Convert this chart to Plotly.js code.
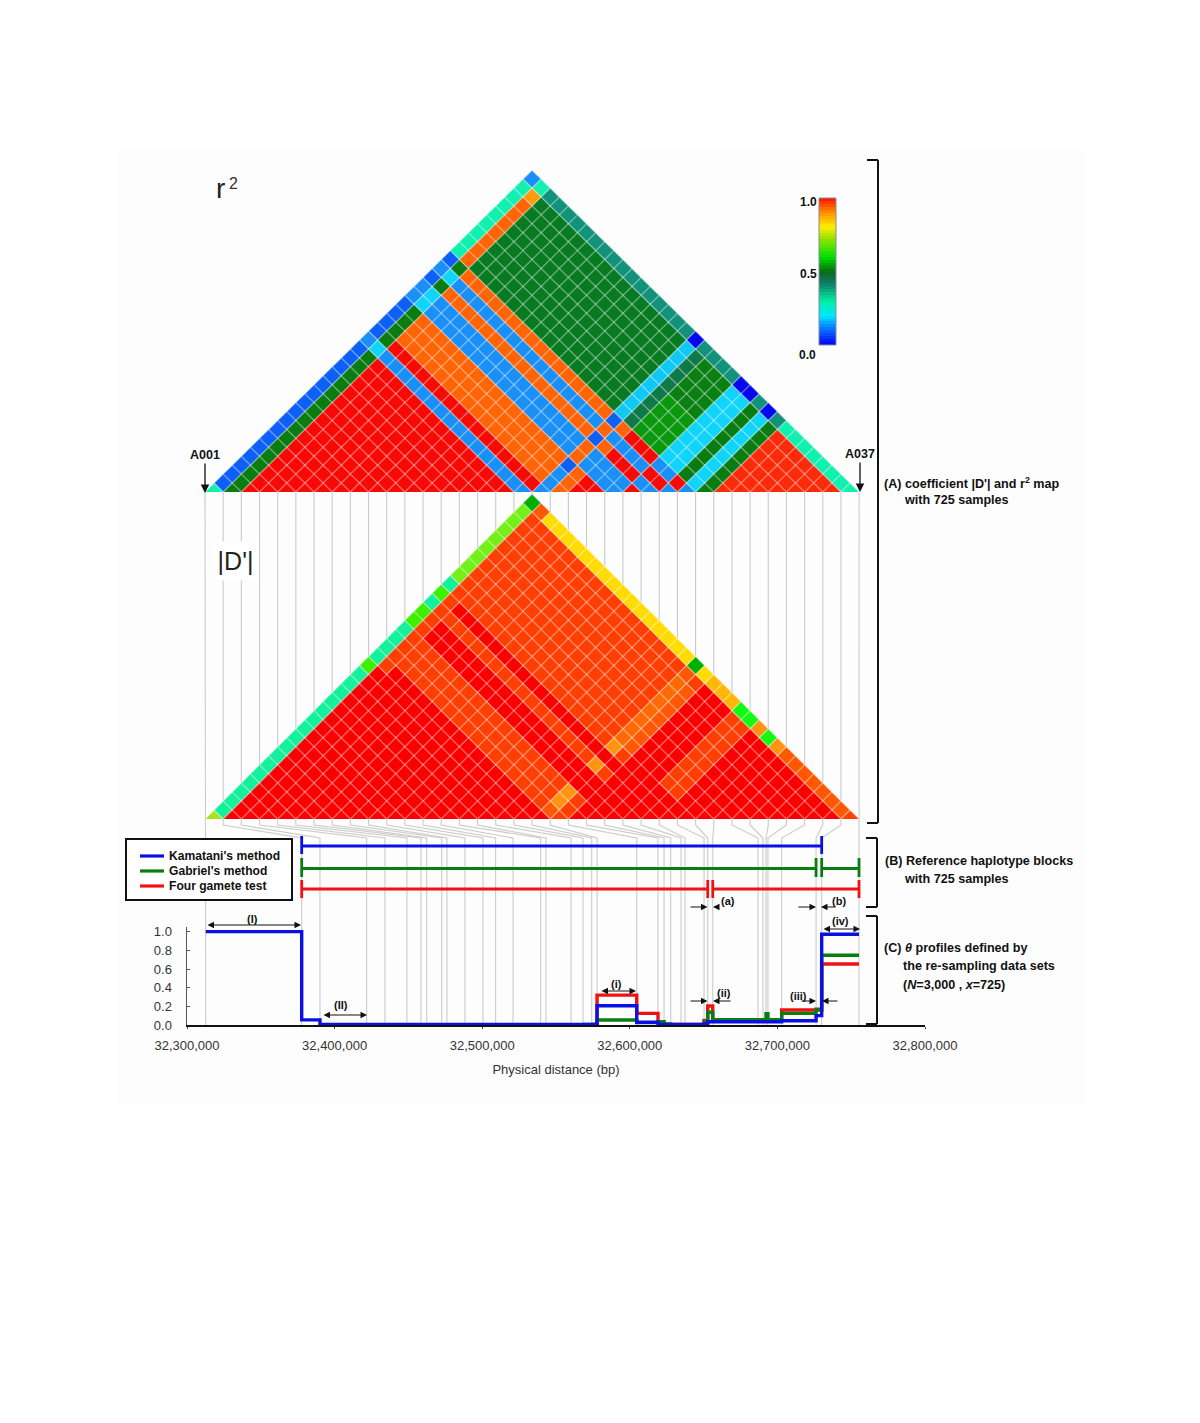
<!DOCTYPE html>
<html><head><meta charset="utf-8">
<script src="https://cdn.plot.ly/plotly-3.0.1.min.js"></script>
<style>html,body{margin:0;padding:0;background:#fff}#chart{width:1200px;height:1423px}</style>
</head><body><div id="chart"></div>
<script>
// ---------- DATA ----------
// Physical position (bp) of the 37 markers A001..A037
const markerBp = [32312700,32377700,32390100,32421700,32434100,32449000,32458500,32462400,32472600,32476100,32488300,32500500,32509100,32520900,32539600,32543200,32560200,32568300,32574200,32577800,32604700,32619100,32623200,32627700,32634700,32637400,32650300,32652800,32656200,32686900,32690200,32692300,32693600,32702900,32726200,32730000,32755300];

// r2 map: row n lists the pairs (n, n+1) .. (n, 37); each letter is a colour class
const r2Rows = [
"MBBBBBBBBBBBBBBBBLBBBBLLBLBMMMMMMMML",
"GGGGGGGGGGGGGGGGCGGGGCCGCGOOOOOOOAM",
"RRRRRRRRRRRRRRRLROOOLLOLOHHHHHHHHT",
"RRRRRRRRRRRRRRLROOOLLOLOHHHHHHHHT",
"RRRRRRRRRRRRRLROOOLLOLOHHHHHHHHT",
"RRRRRRRRRRRRLROOOLLOLOHHHHHHHHT",
"RRRRRRRRRRRLROOOLLOLOHHHHHHHHT",
"RRRRRRRRRRLROOOLLOLOHHHHHHHHT",
"RRRRRRRRRLROOOLLOLOHHHHHHHHT",
"RRRRRRRRLROOOLLOLOHHHHHHHHT",
"RRRRRRRLROOOLLOLOHHHHHHHHT",
"RRRRRRLROOOLLOLOHHHHHHHHT",
"RRRRRLROOOLLOLOHHHHHHHHT",
"RRRRLROOOLLOLOHHHHHHHHT",
"RRRLROOOLLOLOHHHHHHHHT",
"RRLROOOLLOLOHHHHHHHHT",
"RLROOOLLOLOHHHHHHHHT",
"LROOOLLOLOHHHHHHHHT",
"LLLBOOBOBccccccccD",
"OOOLLOLOttttttttT",
"RRLLRLREEEEFFFFT",
"RLLRLREEEEFFFFT",
"LLRLREEEEFFFFT",
"RLRLCCCCCCCCD",
"LRLCCCCCCCCD",
"LRGGGGGGGGT",
"LCCCCCCCCD",
"GGGGGGGGT",
"QQQQQQQM",
"QQQQQQM",
"QQQQQM",
"QQQQM",
"QQQM",
"QQM",
"QM",
"M"
];
const r2Palette = {R:"#f70a05",Q:"#fb2a08",O:"#ff6406",A:"#ff9a0c",M:"#12f0b0",B:"#0c60f6",L:"#1a90f6",C:"#10d4fa",c:"#10c8f6",D:"#0408ee",G:"#0a7c12",H:"#087a22",E:"#0a980f",F:"#0a8012",t:"#0f7a48",T:"#12927a"};

// |D'| map: same layout as r2Rows
const dRows = [
"kmmmmmmmmmmmmmmmmnmmmmnnmnmlllllllld",
"rrrrrrrrrrrrrrrrrqqqqqqqqqqqqqqqqqo",
"rrrrrrrrrrrrrrrrrqqqrrqrqqqqqqqqqy",
"rrrrrrrrrrrrrrrrqqqrrqrqqqqqqqqqy",
"rrrrrrrrrrrrrrrqqqrrqrqqqqqqqqqy",
"rrrrrrrrrrrrrrqqqrrqrqqqqqqqqqy",
"rrrrrrrrrrrrrqqqrrqrqqqqqqqqqy",
"rrrrrrrrrrrrqqqrrqrqqqqqqqqqy",
"rrrrrrrrrrrqqqrrqrqqqqqqqqqy",
"rrrrrrrrrrqqqrrqrqqqqqqqqqy",
"rrrrrrrrrqqqrrqrqqqqqqqqqy",
"rrrrrrrrqqqrrqrqqqqqqqqqy",
"rrrrrrrqqqrrqrqqqqqqqqqy",
"rrrrrrqqqrrqrqqqqqqqqqy",
"rrrrrqqqrrqrqqqqqqqqqy",
"rrrrqqqrrqrqqqqqqqqqy",
"rrrqqqrrqrqqqqqqqqqy",
"rrqqqrrqrqqqqqqqqqy",
"roaarrarapppppppod",
"qqqrrqrqoooooooqy",
"rrrrrrrrrrrrrrrw",
"rrrrrrrrrrrrrrw",
"rrrrrrrrrrrrrw",
"rrrrqqqqqqqqe",
"rrrqqqqqqqqe",
"rrrrrrrrrra",
"rrrrrrrrre",
"rrrrrrrra",
"rrrrrrro",
"rrrrrro",
"rrrrro",
"rrrro",
"rrro",
"rro",
"ro",
"q"
];
const dPalette = {r:"#fb0000",q:"#ff3e02",o:"#ff5804",p:"#ff6a06",a:"#ff9410",y:"#ffdc04",w:"#ffb80a",m:"#14f09c",n:"#3cf000",l:"#74f018",d:"#00b000",e:"#12fa12",k:"#a8e41c"};

// Reference haplotype blocks [start, end] in bp
const kamataniBlocks = [[32377700,32730000]];
const gabrielBlocks  = [[32377700,32726200],[32730000,32755300]];
const fourGameteBlocks = [[32377700,32652800],[32656200,32755300]];

// Theta profiles (step: value holds until next position)
const kamataniX = [32312700,32377700,32390100,32577800,32604700,32619100,32650300,32652800,32702900,32726200,32730000,32755300];
const kamataniY = [1.0,0.055,0.005,0.207,0.03,0.005,0.01,0.035,0.046,0.10,0.972,0.972];
const gabrielX  = [32568300,32577800,32604700,32619100,32623200,32627700,32650300,32652800,32656200,32692300,32693600,32702900,32726200,32730000,32755300];
const gabrielY  = [0.005,0.054,0.025,0.035,0.012,0.004,0.03,0.136,0.057,0.12,0.057,0.125,0.17,0.747,0.747];
const fourGameteX = [32574200,32577800,32604700,32619100,32623200,32650300,32652800,32656200,32702900,32726200,32730000,32755300];
const fourGameteY = [0.005,0.32,0.125,0.03,0.005,0.05,0.204,0.05,0.16,0.16,0.654,0.654];

// Key
const seriesNames = ["Kamatani's method","Gabriel's method","Four gamete test"];

// Colour scale of the key
const keyLevels = [0,.02,.04,.06,.08,.1,.12,.14,.16,.18,.2,.22,.24,.26,.28,.3,.32,.34,.36,.38,.4,.42,.44,.46,.48,.5,.52,.54,.56,.58,.6,.62,.64,.66,.68,.7,.72,.74,.76,.78,.8,.82,.84,.86,.88,.9,.92,.94,.96,.98];
const keyScale = [[0,"#0000ff"],[0.1,"#0a6cff"],[0.2,"#00e6ff"],[0.3,"#00f0a0"],[0.42,"#0f7a68"],[0.5,"#0a6a10"],[0.6,"#00e000"],[0.72,"#90e400"],[0.8,"#ffee00"],[0.9,"#ff9400"],[1,"#ff1000"]];

// ---------- DRAWING CONSTANTS ----------
const FONT = "Liberation Sans, Arial, sans-serif";
const X0 = 205, HX = 9.085;
const AX0 = 187, AX1 = 925, BP0 = 32300000, BP1 = 32800000;
const BASE_Y = 1025, TOP_Y = 927;
const BLUE="#0a10e2", GREEN="#0a7d10", RED="#f01212";
const pxOf = bp => AX0 + (bp-BP0)/(BP1-BP0)*(AX1-AX0);

function triangleTraces(rows, palette, baseY, rowH){
  const groups = {}, gx=[], gy=[];
  rows.forEach((row,n)=>{
    const i=n+1;
    [...row].forEach((ch,m)=>{
      const j=i+1+m, cx=X0+(i+j-2)*HX, cy=baseY-(j-i-1)*rowH;
      const g = groups[ch] || (groups[ch]={x:[],y:[]});
      if(j-i===1){
        g.x.push(cx-HX,cx,cx+HX,null); g.y.push(baseY,cy-rowH,baseY,null);
      }else{
        g.x.push(cx-HX,cx,cx+HX,cx,null); g.y.push(cy,cy-rowH,cy,cy+rowH,null);
      }
      gx.push(cx-HX,cx,cx+HX,null); gy.push(cy,cy-rowH,cy,null);
    });
  });
  const out = Object.keys(groups).map(k=>({type:"scatter",mode:"lines",x:groups[k].x,y:groups[k].y,fill:"toself",fillcolor:palette[k],line:{width:0,color:palette[k]},hoverinfo:"skip",showlegend:false,xaxis:"x",yaxis:"y"}));
  out.push({type:"scatter",mode:"lines",x:gx,y:gy,line:{width:1.4,color:"rgba(255,255,255,0.38)"},hoverinfo:"skip",showlegend:false,xaxis:"x",yaxis:"y"});
  return out;
}

// connector lines between the maps and the physical axis
const cx=[],cy=[];
markerBp.forEach((bp,k)=>{
  const xm=X0+k*2*HX, xp=pxOf(bp);
  cx.push(xm,xm,xp,xp,null); cy.push(492,825,838,BASE_Y,null);
});
const connectors={type:"scatter",mode:"lines",x:cx,y:cy,line:{width:1.1,color:"#cbcbcb"},hoverinfo:"skip",showlegend:false,xaxis:"x",yaxis:"y"};

function blockTrace(blocks,color,yLine,yTop,yBot){
  const x=[],y=[];
  blocks.forEach(b=>{
    x.push(b[0],b[0],null,b[1],b[1],null,b[0],b[1],null);
    y.push(yTop,yBot,null,yTop,yBot,null,yLine,yLine,null);
  });
  return {type:"scatter",mode:"lines",x,y,line:{width:2.8,color},hoverinfo:"skip",showlegend:false,xaxis:"x2",yaxis:"y"};
}
function profile(x,y,color,name){
  return {type:"scatter",mode:"lines",x,y,name,showlegend:false,line:{shape:"hv",width:3.4,color},cliponaxis:false,hoverinfo:"skip",xaxis:"x2",yaxis:"y2"};
}
const keyEdges = keyLevels.concat([1]).map(v=>345-v*147);
const keyTrace = {type:"heatmap",x:[819,836],y:keyEdges,z:keyLevels.map(v=>[v+0.01]),zmin:0,zmax:1,colorscale:keyScale,showscale:false,hoverinfo:"skip",xaxis:"x",yaxis:"y"};

const LEG_Y=[856,871,886], LEG_C=[BLUE,GREEN,RED];

const data=[connectors]
  .concat(triangleTraces(r2Rows,r2Palette,492,8.94))
  .concat(triangleTraces(dRows,dPalette,819,9.03))
  .concat([keyTrace,
    blockTrace(kamataniBlocks,BLUE,846,836,854),
    blockTrace(gabrielBlocks,GREEN,868.5,858,877),
    blockTrace(fourGameteBlocks,RED,889,880,898),
    profile(fourGameteX,fourGameteY,RED,seriesNames[2]),
    profile(gabrielX,gabrielY,GREEN,seriesNames[1]),
    profile(kamataniX,kamataniY,BLUE,seriesNames[0])
  ]);

// ---------- ANNOTATIONS ----------
function txt(x,y,text,size,opts){
  return Object.assign({xref:"x",yref:"y",x,y,text,showarrow:false,xanchor:"left",yanchor:"middle",font:{family:FONT,size:size,color:"#111"}},opts||{});
}
function bold(x,y,text,size,center){
  return txt(x,y,"<b>"+text+"</b>",size,center?{xanchor:"center"}:{});
}
function arrow(x0,y0,x1,y1,dbl,w){
  return {xref:"x",yref:"y",axref:"x",ayref:"y",x:x1,y:y1,ax:x0,ay:y0,text:"",showarrow:true,arrowhead:2,arrowsize:1.3,arrowwidth:w||1,arrowside:dbl?"end+start":"end",arrowcolor:"#111"};
}
const annotations=[
  txt(214,188,"r",28,{font:{family:FONT,size:28,color:"#222"}}),
  txt(227,183,"2",16,{font:{family:FONT,size:16,color:"#333"}}),
  txt(235,561,"|D'|",25,{xanchor:"center",bgcolor:"#ffffff",width:43,height:36,font:{family:FONT,size:25,color:"#222"}}),
  bold(204.5,455,"A001",12.5,true), bold(860,454,"A037",12.5,true),
  arrow(205,462,205,493,false,1.3), arrow(860,461,860,492,false,1.3),
  bold(808,202,"1.0",12,true), bold(808,274,"0.5",12,true), bold(807,355,"0.0",12,true),
  bold(882,483,"(A) coefficient |D'| and r<sup>2</sup> map",12.6),
  bold(902,500,"with 725 samples",12.6),
  bold(883,861,"(B) Reference haplotype blocks",12.6),
  bold(902,879,"with 725 samples",12.6),
  bold(882,948,"(C) <i>\u03b8</i> profiles defined by",12.6),
  bold(901,966,"the re-sampling data sets",12.6),
  bold(901,985,"(<i>N</i>=3,000 , <i>x</i>=725)",12.6),
  bold(252,919,"(I)",11,true), arrow(206,925,301,925,true),
  bold(341,1005,"(II)",11,true), arrow(322,1015,367,1015,true),
  bold(616,984,"(i)",11,true), arrow(600,991,636,991,true),
  bold(840,921,"(iv)",11,true), arrow(822,929,860,929,true),
  bold(728,901,"(a)",11,true), arrow(689,907,707.5,907), arrow(720,907,713,907),
  bold(839,901,"(b)",11,true), arrow(797,907,816,907), arrow(837,907,821,907),
  bold(724,993,"(ii)",11,true), arrow(689,1001,707.5,1001), arrow(732,1001,713,1001),
  bold(798,996,"(iii)",11,true), arrow(800,1001,816,1001), arrow(839,1001,822,1001)
].concat(seriesNames.map((n,k)=>bold(167,LEG_Y[k],n,12.1)));

const blk={color:"#111",width:2};
function seg(x0,y0,x1,y1,line){return {type:"line",xref:"x",yref:"y",x0,y0,x1,y1,line:line||blk,layer:"above"};}
const shapes=[
  {type:"rect",xref:"x",yref:"y",x0:118,y0:148,x1:1085,y1:1105,fillcolor:"#fdfdfd",line:{width:0},layer:"below"},
  {type:"rect",xref:"x",yref:"y",x0:126,y0:839,x1:292,y1:900,fillcolor:"#ffffff",line:{color:"#111",width:2},layer:"above"},
  seg(140,LEG_Y[0],164,LEG_Y[0],{color:LEG_C[0],width:3.2}),
  seg(140,LEG_Y[1],164,LEG_Y[1],{color:LEG_C[1],width:3.2}),
  seg(140,LEG_Y[2],164,LEG_Y[2],{color:LEG_C[2],width:3.2}),
  seg(867,160,878,160),seg(878,160,878,823),seg(867,823,878,823),
  seg(866,838,877,838),seg(877,838,877,907),seg(866,907,877,907),
  seg(866,916,877,916),seg(877,916,877,1024),seg(866,1024,877,1024),
  {type:"rect",xref:"x",yref:"y",x0:819,y0:198,x1:836,y1:345,line:{color:"#8a8aa0",width:1},layer:"above"}
];

const layout={
  width:1200,height:1423,margin:{l:0,r:0,t:0,b:0},
  paper_bgcolor:"#ffffff",plot_bgcolor:"rgba(0,0,0,0)",
  font:{family:FONT,color:"#222"},
  xaxis:{domain:[0,1],range:[0,1200],visible:false,fixedrange:true},
  yaxis:{domain:[0,1],range:[1423,0],visible:false,fixedrange:true},
  xaxis2:{domain:[AX0/1200,AX1/1200],range:[BP0,BP1],anchor:"y2",tick0:BP0,dtick:100000,tickformat:",d",
    showgrid:false,zeroline:false,showline:true,linecolor:"#111",linewidth:1.5,ticks:"outside",ticklen:2,tickcolor:"#444",
    ticklabelstandoff:6,tickfont:{family:FONT,size:13,color:"#333"},
    title:{text:"Physical distance (bp)",font:{family:FONT,size:13,color:"#333"},standoff:13}},
  yaxis2:{domain:[(1423-BASE_Y)/1423,(1423-TOP_Y)/1423],range:[0,1.05],anchor:"x2",tick0:0,dtick:0.2,tickformat:".1f",
    showgrid:false,zeroline:false,showline:true,linecolor:"#555",linewidth:1.5,ticks:"inside",ticklen:3,tickcolor:"#555",
    ticklabelstandoff:11,tickfont:{family:FONT,size:13,color:"#333"}},
  showlegend:false,annotations,shapes
};
Plotly.newPlot("chart",data,layout,{staticPlot:true,displayModeBar:false});
</script></body></html>
